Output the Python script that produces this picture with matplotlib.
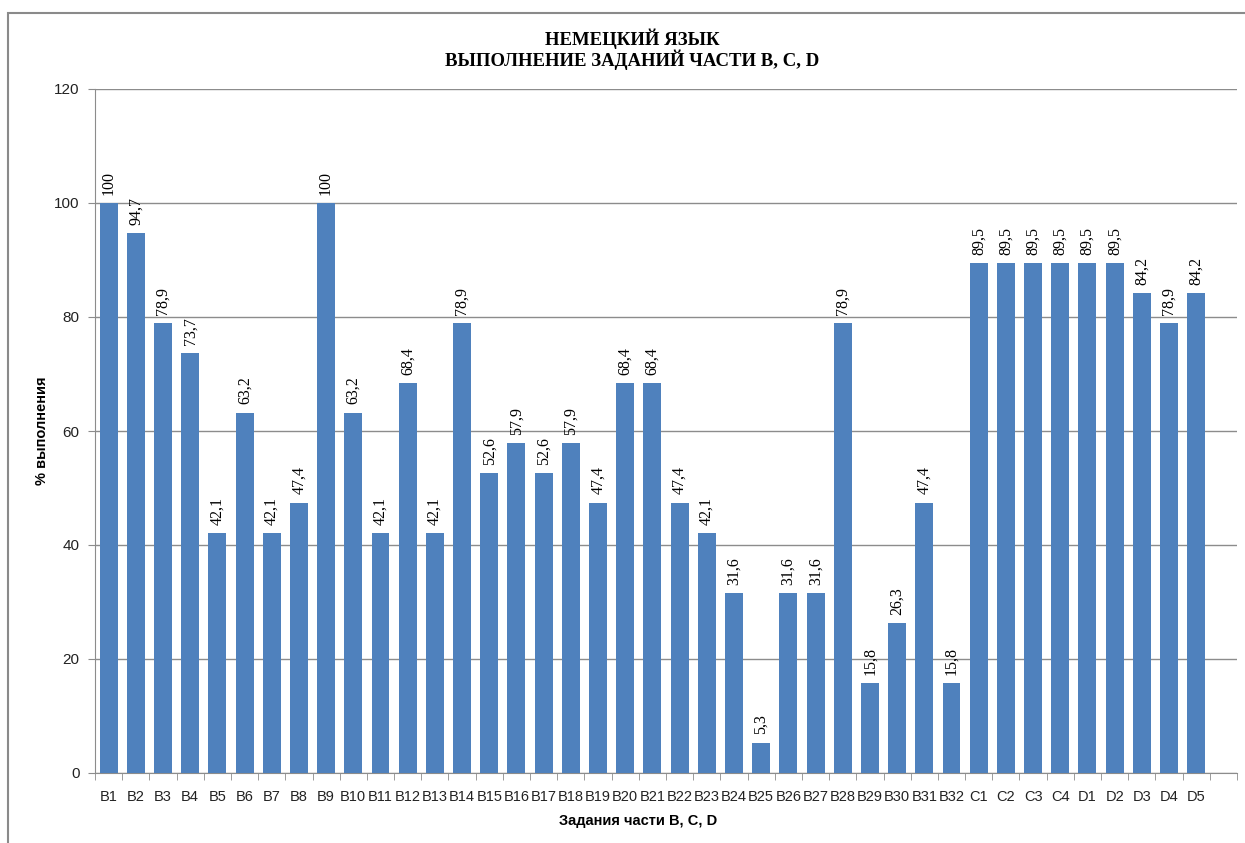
import matplotlib.pyplot as plt
from matplotlib.patches import Rectangle
import numpy as np

BLUE = '#4F81BD'; GRID = '#8C8C8C'; DARK = '#222222'
SANS = 'Liberation Sans'; SERIF = 'Liberation Serif'

tasks = ['B%d' % i for i in range(1, 33)] + ['C1', 'C2', 'C3', 'C4'] + \
        ['D1', 'D2', 'D3', 'D4', 'D5']
values = [100, 94.7, 78.9, 73.7, 42.1, 63.2, 42.1, 47.4, 100, 63.2,
          42.1, 68.4, 42.1, 78.9, 52.6, 57.9, 52.6, 57.9, 47.4, 68.4,
          68.4, 47.4, 42.1, 31.6, 5.3, 31.6, 31.6, 78.9, 15.8, 26.3,
          47.4, 15.8,
          89.5, 89.5, 89.5, 89.5,
          89.5, 89.5, 84.2, 78.9, 84.2]
yticks = [0, 20, 40, 60, 80, 100, 120]

fig = plt.figure(figsize=(12.45, 8.43), dpi=100, facecolor='white')
ax = fig.add_axes([95/1245, 1-773/843, (1237-95)/1245, (773-89)/843])

x = np.arange(len(tasks))
bars = ax.bar(x, values, width=0.66, color=BLUE, zorder=3)
for xi, v in zip(x, values):
    ax.annotate(('%g' % v).replace('.', ','), (xi, v), xytext=(0, 6),
                textcoords='offset points', rotation=90, ha='center',
                va='bottom', fontsize=11.5, fontfamily=SERIF, color='black')

ax.set_xlim(-0.5, len(tasks) + 0.5)
ax.set_ylim(0, 120)
ax.set_yticks(yticks)
ax.set_yticklabels([str(t) for t in yticks], fontsize=11, fontfamily=SANS,
                   color=DARK)
ax.yaxis.grid(True, color=GRID, lw=1, zorder=0)
ax.set_xticks(x)
ax.set_xticklabels(tasks, fontsize=10.5, fontfamily=SANS, color=DARK)
ax.set_xticks(np.arange(-0.5, len(tasks) + 1, 1), minor=True)
ax.tick_params(axis='x', which='major', length=0, pad=12)
ax.tick_params(axis='x', which='minor', length=5, color=GRID, direction='out')
ax.tick_params(axis='y', length=5, color=GRID, pad=6)
for sp in ['top', 'right']:
    ax.spines[sp].set_visible(False)
for sp in ['left', 'bottom']:
    ax.spines[sp].set_color(GRID)

fig.text(632/1245, 1-49/843, 'НЕМЕЦКИЙ ЯЗЫК\nВЫПОЛНЕНИЕ ЗАДАНИЙ ЧАСТИ В, С, D',
         ha='center', va='center', fontsize=13.5, fontweight='bold',
         fontfamily=SERIF, linespacing=1.0)
fig.text(42/1245, 1-431/843, '% выполнения', rotation=90, ha='center',
         va='center', fontsize=10.5, fontweight='bold', fontfamily=SANS)
fig.text(638/1245, 1-821/843, 'Задания части В, С, D', ha='center',
         va='center', fontsize=10.5, fontweight='bold', fontfamily=SANS)

fig.add_artist(Rectangle((8/1245, -0.1), 1.2, 1.1 - 13/843,
                         transform=fig.transFigure, fill=False,
                         edgecolor='#8A8A8A', lw=1.5))

plt.savefig('out.png', dpi=100, facecolor='white')
plt.close()
